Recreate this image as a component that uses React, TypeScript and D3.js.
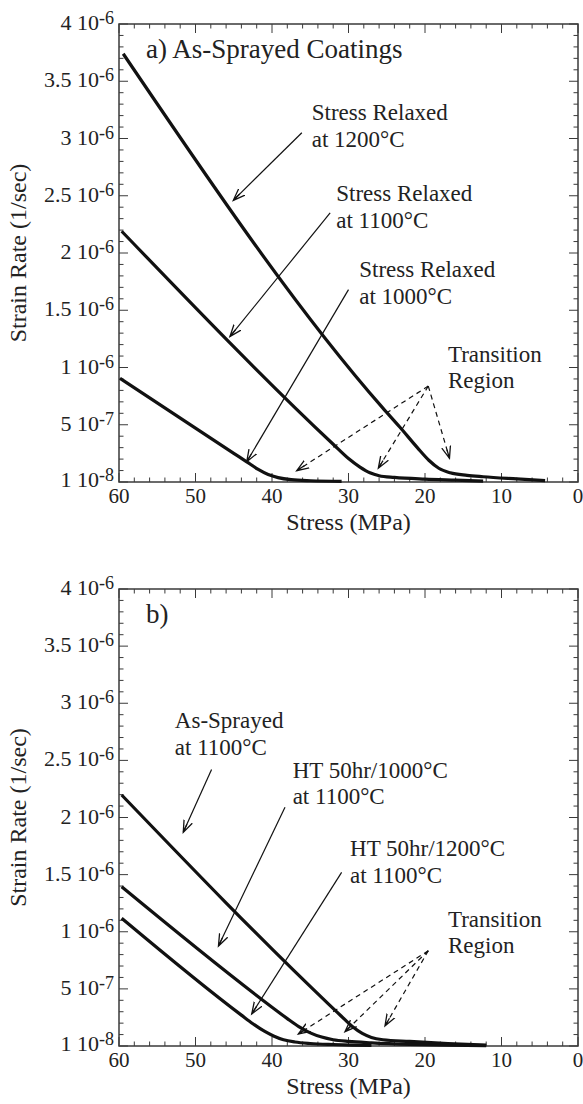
import React from 'react';
import * as d3 from 'd3';

// strain rate values are in units of 1e-6 1/sec, stress in MPa
const relaxed1200: [number, number][] = [
  [59.45, 3.74], [25.5, 0.645], [23.3, 0.48], [21, 0.3], [19.5, 0.19], [18.2, 0.12],
  [16.7, 0.08], [14.5, 0.058], [12.4, 0.046], [8, 0.027], [4.3, 0.012],
];
const relaxed1100: [number, number][] = [
  [59.65, 2.19], [32, 0.33], [30, 0.205], [28.5, 0.13], [27.2, 0.08], [26, 0.055],
  [24, 0.04], [20, 0.025], [16, 0.016], [12.4, 0.008],
];
const relaxed1000: [number, number][] = [
  [59.87, 0.905], [45, 0.25], [43.3, 0.176], [41.8, 0.11], [40.5, 0.065], [39.2, 0.038],
  [37.5, 0.02], [35, 0.011], [30.9, 0.006],
];

const asSprayed1100: [number, number][] = [
  [59.65, 2.197], [32.5, 0.36], [31, 0.265], [29.5, 0.17], [28.2, 0.11], [27, 0.075],
  [25.5, 0.055], [22, 0.04], [17, 0.022], [12, 0.008],
];
const ht1000: [number, number][] = [
  [59.65, 1.394], [40, 0.34], [38, 0.24], [36.5, 0.17], [35, 0.115], [33.5, 0.078],
  [32, 0.055], [30, 0.04], [27, 0.028], [22, 0.015], [17, 0.008], [12, 0.004],
];
const ht1200: [number, number][] = [
  [59.65, 1.118], [44, 0.27], [42.5, 0.195], [41, 0.13], [39.8, 0.088], [38.5, 0.055],
  [37, 0.035], [35, 0.022], [32, 0.013], [29.5, 0.008], [27, 0.006],
];

const xTickValues = [60, 50, 40, 30, 20, 10, 0];
const yTickValues = [0.01, 0.5, 1, 1.5, 2, 2.5, 3, 3.5, 4];
const yTickMantissa = ['1', '5', '1', '1.5', '2', '2.5', '3', '3.5', '4'];
const yTickExponent = ['-8', '-7', '-6', '-6', '-6', '-6', '-6', '-6', '-6'];

// annotations: label lines at [stress, rate], arrows from -> to
type Note = { lines: string[]; at: [number, number]; from: [number, number]; to: [number, number] };

const notesA: Note[] = [
  { lines: ['Stress Relaxed', 'at 1200°C'], at: [34.8, 3.16], from: [36.1, 3.05], to: [45.06, 2.46] },
  { lines: ['Stress Relaxed', 'at 1100°C'], at: [31.6, 2.45], from: [32.4, 2.35], to: [45.5, 1.27] },
  { lines: ['Stress Relaxed', 'at 1000°C'], at: [28.6, 1.79], from: [30.0, 1.68], to: [43.3, 0.177] },
];
const notesB: Note[] = [
  { lines: ['As-Sprayed', 'at 1100°C'], at: [52.7, 2.78], from: [47.9, 2.42], to: [51.6, 1.87] },
  { lines: ['HT 50hr/1000°C', 'at 1100°C'], at: [37.3, 2.35], from: [38.3, 2.09], to: [47.0, 0.875] },
  { lines: ['HT 50hr/1200°C', 'at 1100°C'], at: [29.8, 1.66], from: [30.9, 1.52], to: [42.65, 0.28] },
];

const transitionA = { at: [17.0, 1.05] as [number, number], from: [19.57, 0.838] as [number, number],
  to: [[36.77, 0.099], [26.1, 0.12], [16.8, 0.207]] as [number, number][] };
const transitionB = { at: [17.0, 1.044] as [number, number], from: [19.57, 0.834] as [number, number],
  to: [[36.56, 0.105], [30.46, 0.125], [25.23, 0.175]] as [number, number][] };

const FONT = "'Liberation Serif', 'Times New Roman', serif";

function Panel({ top, bottom, title, series, notes, transition, id }: any) {
  const left = 119, right = 578;
  const x = d3.scaleLinear().domain([60, 0]).range([left, right]);
  const y = d3.scaleLinear().domain([0, 4]).range([bottom, top]);
  const line = d3.line<[number, number]>().x(d => x(d[0])).y(d => y(d[1])).curve(d3.curveMonotoneX);
  const minorX = d3.range(0, 61, 2);
  const minorY = d3.range(0, 40.5, 1).map(v => v / 10);
  const axisColor = '#3a3a3a';
  const mid = (top + bottom) / 2;

  return (
    <g>
      {/* ticks, inward on all sides */}
      {minorX.map(v => {
        const major = v % 10 === 0;
        const len = major ? 9 : 4.5;
        return (
          <g key={'x' + v} stroke={axisColor} strokeWidth={1}>
            <line x1={x(v)} x2={x(v)} y1={bottom} y2={bottom - len} />
            <line x1={x(v)} x2={x(v)} y1={top} y2={top + len} />
          </g>
        );
      })}
      {minorY.map((v, i) => {
        const major = i % 5 === 0;
        const len = major ? 9 : 4.5;
        return (
          <g key={'y' + i} stroke={axisColor} strokeWidth={1}>
            <line x1={left} x2={left + len} y1={y(v)} y2={y(v)} />
            <line x1={right} x2={right - len} y1={y(v)} y2={y(v)} />
          </g>
        );
      })}
      <rect x={left} y={top} width={right - left} height={bottom - top} fill="none" stroke={axisColor} strokeWidth={1.5} />

      {xTickValues.map(v => (
        <text key={'xl' + v} x={x(v)} y={bottom + 21} textAnchor="middle" fontSize={21} fontFamily={FONT} fill="#222">{v}</text>
      ))}
      {yTickValues.map((v, i) => (
        <text key={'yl' + i} x={left - 5} y={y(v) + 6} textAnchor="end" fontSize={22} fontFamily={FONT} fill="#222">
          <tspan>{yTickMantissa[i] + ' 10'}</tspan>
          <tspan dy={-6} fontSize={18}>{yTickExponent[i]}</tspan>
        </text>
      ))}

      <text x={(left + right) / 2} y={bottom + 48} textAnchor="middle" fontSize={24} fontFamily={FONT} fill="#222">Stress (MPa)</text>
      <text transform={`translate(26,${mid}) rotate(-90)`} textAnchor="middle" fontSize={24} fontFamily={FONT} fill="#222">Strain Rate (1/sec)</text>
      <text x={146} y={top + 34} fontSize={27} fontFamily={FONT} fill="#222">{title}</text>

      {series.map((s: [number, number][], i: number) => (
        <path key={'s' + i} d={line(s) || ''} fill="none" stroke="#111" strokeWidth={3.2} strokeLinejoin="round" />
      ))}

      {notes.map((n: Note, i: number) => (
        <g key={'n' + i}>
          <text x={x(n.at[0])} y={y(n.at[1])} fontSize={23} fontFamily={FONT} fill="#222">
            {n.lines.map((l, j) => (
              <tspan key={j} x={x(n.at[0])} dy={j === 0 ? 0 : 26.5}>{l}</tspan>
            ))}
          </text>
          <line x1={x(n.from[0])} y1={y(n.from[1])} x2={x(n.to[0])} y2={y(n.to[1])}
            stroke="#111" strokeWidth={1.2} markerEnd={`url(#arrow${id})`} />
        </g>
      ))}

      <text x={x(transition.at[0])} y={y(transition.at[1])} fontSize={23} fontFamily={FONT} fill="#222">
        <tspan x={x(transition.at[0])}>Transition</tspan>
        <tspan x={x(transition.at[0])} dy={26.5}>Region</tspan>
      </text>
      {transition.to.map((t: [number, number], i: number) => (
        <line key={'t' + i} x1={x(transition.from[0])} y1={y(transition.from[1])} x2={x(t[0])} y2={y(t[1])}
          stroke="#111" strokeWidth={1.2} strokeDasharray="5,4" markerEnd={`url(#arrow${id})`} />
      ))}
    </g>
  );
}

export default function App() {
  return (
    <svg width={583} height={1104} style={{ position: 'absolute', left: 0, top: 0, background: '#fff' }}>
      <defs>
        {['a', 'b'].map(id => (
          <marker key={id} id={'arrow' + id} markerUnits="userSpaceOnUse" markerWidth={14} markerHeight={12}
            refX={12} refY={5} orient="auto" viewBox="0 0 14 10">
            <path d="M0,0.5 L12,5 L0,9.5 M12,5 L3,5" fill="none" stroke="#111" strokeWidth={1.3} />
          </marker>
        ))}
      </defs>
      <Panel id="a" top={24} bottom={482} title="a) As-Sprayed Coatings"
        series={[relaxed1200, relaxed1100, relaxed1000]} notes={notesA} transition={transitionA} />
      <Panel id="b" top={589} bottom={1046} title="b)"
        series={[asSprayed1100, ht1000, ht1200]} notes={notesB} transition={transitionB} />
    </svg>
  );
}
